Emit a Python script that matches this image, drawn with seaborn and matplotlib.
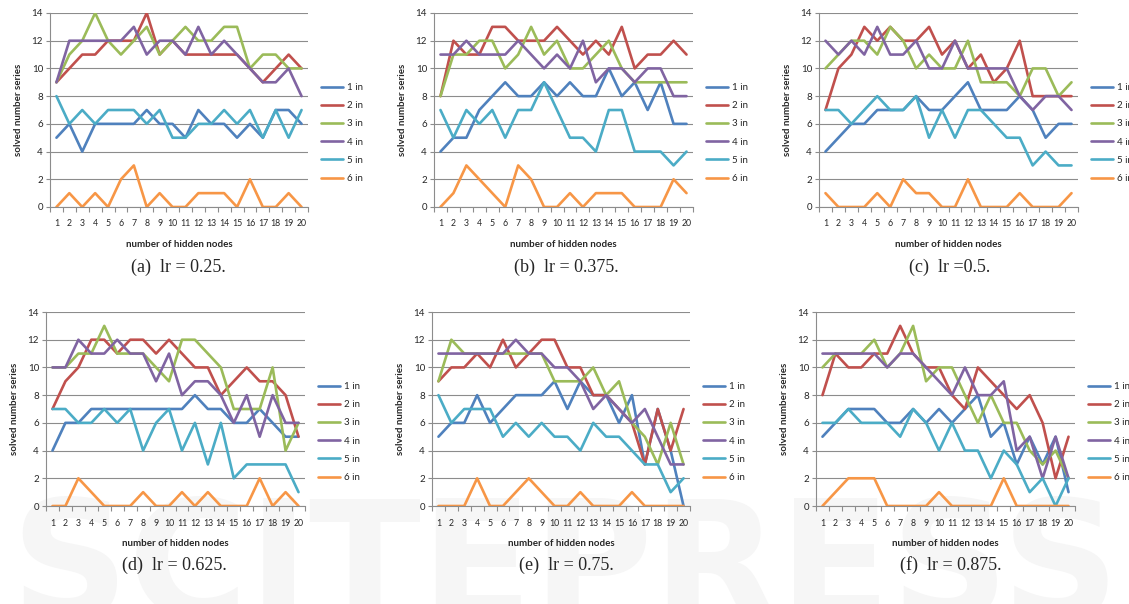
import pandas as pd
import matplotlib
matplotlib.use("Agg")
import matplotlib.pyplot as plt
import seaborn as sns

# hidden nodes on the x axis
nodes = list(range(1, 21))
series_names = ["1 in", "2 in", "3 in", "4 in", "5 in", "6 in"]
colors = ["#4F81BD", "#C0504D", "#9BBB59", "#8064A2", "#4BACC6", "#F79646"]

# solved number series per panel, one list per series (1 in .. 6 in)
lr_025 = [
    [5, 6, 4, 6, 6, 6, 6, 7, 6, 6, 5, 7, 6, 6, 5, 6, 5, 7, 7, 6],
    [9, 10, 11, 11, 12, 12, 12, 14, 11, 12, 11, 11, 11, 11, 11, 10, 9, 10, 11, 10],
    [9, 11, 12, 14, 12, 11, 12, 13, 11, 12, 13, 12, 12, 13, 13, 10, 11, 11, 10, 10],
    [9, 12, 12, 12, 12, 12, 13, 11, 12, 12, 11, 13, 11, 12, 11, 10, 9, 9, 10, 8],
    [8, 6, 7, 6, 7, 7, 7, 6, 7, 5, 5, 6, 6, 7, 6, 7, 5, 7, 5, 7],
    [0, 1, 0, 1, 0, 2, 3, 0, 1, 0, 0, 1, 1, 1, 0, 2, 0, 0, 1, 0],
]
lr_0375 = [
    [4, 5, 5, 7, 8, 9, 8, 8, 9, 8, 9, 8, 8, 10, 8, 9, 7, 9, 6, 6],
    [8, 12, 11, 11, 13, 13, 12, 12, 12, 13, 12, 11, 12, 11, 13, 10, 11, 11, 12, 11],
    [8, 11, 11, 12, 12, 10, 11, 13, 11, 12, 10, 10, 11, 12, 10, 9, 9, 9, 9, 9],
    [11, 11, 12, 11, 11, 11, 12, 11, 10, 11, 10, 12, 9, 10, 10, 9, 10, 10, 8, 8],
    [7, 5, 7, 6, 7, 5, 7, 7, 9, 7, 5, 5, 4, 7, 7, 4, 4, 4, 3, 4],
    [0, 1, 3, 2, 1, 0, 3, 2, 0, 0, 1, 0, 1, 1, 1, 0, 0, 0, 2, 1],
]
lr_05 = [
    [4, 5, 6, 6, 7, 7, 7, 8, 7, 7, 8, 9, 7, 7, 7, 8, 7, 5, 6, 6],
    [7, 10, 11, 13, 12, 13, 12, 12, 13, 11, 12, 10, 11, 9, 10, 12, 8, 8, 8, 8],
    [10, 11, 12, 12, 11, 13, 12, 10, 11, 10, 10, 12, 9, 9, 9, 8, 10, 10, 8, 9],
    [12, 11, 12, 11, 13, 11, 11, 12, 10, 10, 12, 10, 10, 10, 10, 8, 7, 8, 8, 7],
    [7, 7, 6, 7, 8, 7, 7, 8, 5, 7, 5, 7, 7, 6, 5, 5, 3, 4, 3, 3],
    [1, 0, 0, 0, 1, 0, 2, 1, 1, 0, 0, 2, 0, 0, 0, 1, 0, 0, 0, 1],
]
lr_0625 = [
    [4, 6, 6, 7, 7, 7, 7, 7, 7, 7, 7, 8, 7, 7, 6, 6, 7, 6, 5, 5],
    [7, 9, 10, 12, 12, 11, 12, 12, 11, 12, 11, 10, 10, 8, 9, 10, 9, 9, 8, 5],
    [10, 10, 11, 11, 13, 11, 11, 11, 10, 9, 12, 12, 11, 10, 7, 7, 7, 10, 4, 6],
    [10, 10, 12, 11, 11, 12, 11, 11, 9, 11, 8, 9, 9, 8, 6, 8, 5, 8, 6, 6],
    [7, 7, 6, 6, 7, 6, 7, 4, 6, 7, 4, 6, 3, 6, 2, 3, 3, 3, 3, 1],
    [0, 0, 2, 1, 0, 0, 0, 1, 0, 0, 1, 0, 1, 0, 0, 0, 2, 0, 1, 0],
]
lr_075 = [
    [5, 6, 6, 8, 6, 7, 8, 8, 8, 9, 7, 9, 8, 8, 6, 8, 3, 7, 4, 0],
    [9, 10, 10, 11, 10, 12, 10, 11, 12, 12, 10, 10, 8, 8, 7, 6, 3, 7, 4, 7],
    [9, 12, 11, 11, 11, 11, 11, 11, 11, 9, 9, 9, 10, 8, 9, 6, 5, 3, 6, 3],
    [11, 11, 11, 11, 11, 11, 12, 11, 11, 10, 10, 9, 7, 8, 7, 6, 7, 5, 3, 3],
    [8, 6, 7, 7, 7, 5, 6, 5, 6, 5, 5, 4, 6, 5, 5, 4, 3, 3, 1, 2],
    [0, 0, 0, 2, 0, 0, 1, 2, 1, 0, 0, 1, 0, 0, 0, 1, 0, 0, 0, 0],
]
lr_0875 = [
    [5, 6, 7, 7, 7, 6, 6, 7, 6, 7, 6, 7, 8, 5, 6, 3, 5, 3, 5, 1],
    [8, 11, 10, 10, 11, 11, 13, 11, 10, 10, 8, 7, 10, 9, 8, 7, 8, 6, 2, 5],
    [10, 11, 11, 11, 12, 10, 11, 13, 9, 10, 10, 8, 6, 8, 6, 6, 4, 3, 4, 2],
    [11, 11, 11, 11, 11, 10, 11, 11, 10, 9, 8, 10, 8, 8, 9, 4, 5, 2, 5, 2],
    [6, 6, 7, 6, 6, 6, 5, 7, 6, 4, 6, 4, 4, 2, 4, 3, 1, 2, 0, 2],
    [0, 1, 2, 2, 2, 0, 0, 0, 0, 1, 0, 0, 0, 0, 2, 0, 0, 0, 0, 0],
]

panels = [lr_025, lr_0375, lr_05, lr_0625, lr_075, lr_0875]
captions = ["(a)  lr = 0.25.", "(b)  lr = 0.375.", "(c)  lr =0.5.",
            "(d)  lr = 0.625.", "(e)  lr = 0.75.", "(f)  lr = 0.875."]

W, H = 1129, 604
# plot boxes in pixels: left, right, top, bottom
boxes = [(50, 308, 13, 207), (434, 693, 13, 207), (819, 1078, 13, 207),
         (46, 305, 312, 506), (432, 690, 312, 506), (816, 1075, 312, 506)]
caption_x = [178, 566, 950, 174, 566, 951]

sns.set_style("white")
plt.rcParams["font.family"] = ["Lato", "DejaVu Sans"]
grid_col = "#8C8C8C"

fig = plt.figure(figsize=(W / 100, H / 100), dpi=100)
fig.patch.set_facecolor("white")

# faint publisher watermark behind everything
fig.text(0.5, -14 / H, "SCITEPRESS", fontsize=118, fontweight="bold",
         color="#F6F6F6", ha="center", va="baseline", zorder=-5,
         family="DejaVu Sans")

for i, (data, (l, r, t, b)) in enumerate(zip(panels, boxes)):
    ax = fig.add_axes([l / W, 1 - b / H, (r - l) / W, (b - t) / H])
    ax.set_zorder(2)
    ax.set_facecolor("none")
    rows = []
    for name, vals in zip(series_names, data):
        for n, v in zip(nodes, vals):
            rows.append({"nodes": n, "solved": v, "series": name})
    df = pd.DataFrame(rows)
    sns.lineplot(data=df, x="nodes", y="solved", hue="series",
                 palette=colors, linewidth=1.9, ax=ax)

    ax.set_xlim(0.5, 20.5)
    ax.set_ylim(0, 14)
    ax.set_yticks(range(0, 15, 2))
    ax.set_xticks(nodes)
    ax.set_xticks([x + 0.5 for x in range(0, 21)], minor=True)
    ax.grid(axis="y", color=grid_col, linewidth=0.8)
    ax.set_axisbelow(True)
    for s in ["top", "right"]:
        ax.spines[s].set_visible(False)
    for s in ["left", "bottom"]:
        ax.spines[s].set_color(grid_col)
        ax.spines[s].set_linewidth(0.8)
    ax.tick_params(axis="x", which="major", length=0, labelsize=6.3, pad=9)
    ax.tick_params(axis="x", which="minor", length=3.5, color=grid_col,
                   width=0.8, direction="out", bottom=True)
    ax.tick_params(axis="y", length=3, color=grid_col, width=0.8,
                   labelsize=7, pad=2, left=True)
    ax.set_xlabel("number of hidden nodes", fontsize=7, fontweight="bold",
                  labelpad=8)
    ax.set_ylabel("solved number series", fontsize=7, fontweight="bold",
                  labelpad=6)

    leg_y = 133 if i < 3 else 432
    ax.legend(loc="center left", bbox_to_anchor=((r + 13) / W, 1 - leg_y / H),
              bbox_transform=fig.transFigure, frameon=False, fontsize=7,
              handlelength=2.3, handletextpad=0.35, labelspacing=0.95,
              borderaxespad=0, borderpad=0)

    fig.text(caption_x[i] / W, 1 - (267 if i < 3 else 565) / H, captions[i],
             fontsize=13, family="Liberation Serif", ha="center", va="center")

fig.savefig("out.png", dpi=100, facecolor="white")
